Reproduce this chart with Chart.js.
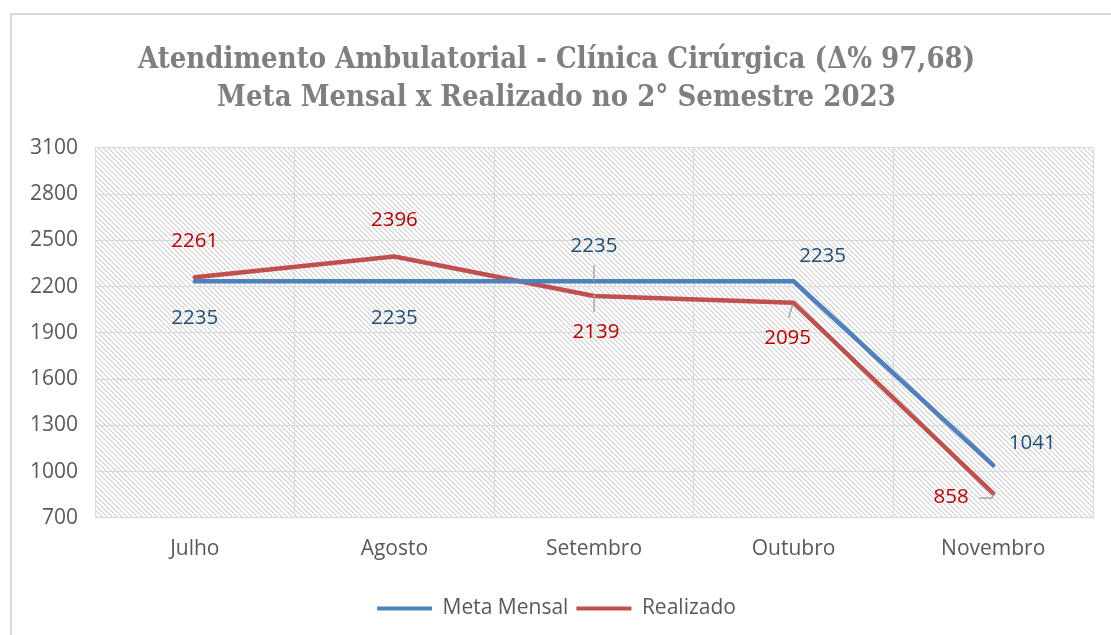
<!DOCTYPE html>
<html><head><meta charset="utf-8">
<script src="https://cdn.jsdelivr.net/npm/chart.js@4/dist/chart.umd.min.js"></script>
<style>html,body{margin:0;padding:0;background:#fff}#wrap{width:1111px;height:635px;position:relative}</style>
</head><body><div id="wrap"><canvas id="c"></canvas></div>
<script>
const titleLines = ['Atendimento Ambulatorial - Clínica Cirúrgica (Δ% 97,68)', 'Meta Mensal x Realizado no 2° Semestre 2023'];
const months = ['Julho', 'Agosto', 'Setembro', 'Outubro', 'Novembro'];
const metaMensal = [2235, 2235, 2235, 2235, 1041];
const realizado = [2261, 2396, 2139, 2095, 858];
const yMin = 700, yMax = 3100, yStep = 300;

// label placement (styling only)
const labelPlacement = [
  [{dx:0,dy:37},{dx:0,dy:37},{dx:0,dy:-35,leader:[[0,-16],[0,0]]},{dx:29,dy:-25},{dx:39,dy:-22}],
  [{dx:0,dy:-36},{dx:0,dy:-36},{dx:2,dy:36,leader:[[0,-1],[0,16]]},{dx:-6,dy:35,leader:[[-1,2],[-5,15]]},{dx:-42,dy:4,leader:[[-14,4.5],[-1,4.5],[0,1]]}]
];
const labelColors = ['#1F4E79', '#C00000'];
const FONT = "'Open Sans', sans-serif";

function makeHatch() {
  const c = document.createElement('canvas');
  c.width = 5; c.height = 5;
  const x = c.getContext('2d');
  x.fillStyle = '#fff'; x.fillRect(0,0,5,5);
  x.fillStyle = 'rgb(205,205,205)';
  for (let i = 0; i < 5; i++) x.fillRect(i, i, 1, 1);
  x.fillStyle = 'rgb(238,238,238)';
  for (let i = 0; i < 5; i++) x.fillRect((i+1)%5, i, 1, 1);
  return c;
}

const bgPlugin = {
  id: 'bg',
  beforeDraw(chart) {
    const ctx = chart.ctx, a = chart.chartArea;
    ctx.save();
    ctx.fillStyle = '#fff';
    ctx.fillRect(0, 0, chart.width, chart.height);
    ctx.fillStyle = '#d9d9d9';
    ctx.fillRect(10, 13, chart.width - 10, 2);
    ctx.fillRect(10, 13, 2, chart.height - 13);
    ctx.fillStyle = ctx.createPattern(makeHatch(), 'repeat');
    ctx.fillRect(a.left, a.top, a.right - a.left, a.bottom - a.top);
    ctx.restore();
  }
};

const labelPlugin = {
  id: 'vlabels',
  afterDatasetsDraw(chart) {
    const ctx = chart.ctx;
    ctx.save();
    chart.data.datasets.forEach((ds, di) => {
      const meta = chart.getDatasetMeta(di);
      meta.data.forEach((pt, i) => {
        const p = labelPlacement[di][i];
        if (p.leader) {
          ctx.strokeStyle = '#a6a6a6';
          ctx.lineWidth = 1.5;
          ctx.beginPath();
          p.leader.forEach((q, k) => {
            const X = pt.x + q[0], Y = pt.y + q[1];
            if (k === 0) ctx.moveTo(X, Y); else ctx.lineTo(X, Y);
          });
          ctx.stroke();
        }
        ctx.fillStyle = labelColors[di];
        ctx.font = "20.5px " + FONT;
        ctx.textAlign = 'center';
        ctx.textBaseline = 'middle';
        ctx.fillText(String(ds.data[i]), pt.x + p.dx, pt.y + p.dy);
      });
    });
    ctx.restore();
  }
};

new Chart(document.getElementById('c'), {
  type: 'line',
  data: {
    labels: months,
    datasets: [
      {label: 'Meta Mensal', data: metaMensal, borderColor: '#4F81BD', backgroundColor: '#4F81BD', borderWidth: 4.5, pointRadius: 0, tension: 0, borderCapStyle: 'round', borderJoinStyle: 'round'},
      {label: 'Realizado', data: realizado, borderColor: '#C0504D', backgroundColor: '#C0504D', borderWidth: 4.5, pointRadius: 0, tension: 0, borderCapStyle: 'round', borderJoinStyle: 'round'}
    ]
  },
  options: {
    responsive: true,
    maintainAspectRatio: false,
    animation: false,
    layout: {padding: {left: 20, right: 18, top: 41, bottom: 6}},
    plugins: {
      title: {
        display: true,
        text: titleLines,
        color: '#7F7F7F',
        font: {family: "'DejaVu Serif Condensed', 'DejaVu Serif', serif", size: 29, weight: 'bold', lineHeight: 1.31},
        padding: {top: 0, bottom: 31}
      },
      legend: {
        position: 'bottom',
        labels: {
          color: '#595959',
          font: {family: FONT, size: 21},
          boxWidth: 55,
          boxHeight: 4,
          padding: 8,
          generateLabels(chart) {
            return chart.data.datasets.map((d, i) => ({text: d.label, fillStyle: d.borderColor, strokeStyle: d.borderColor, lineWidth: 0, datasetIndex: i, fontColor: '#595959'}));
          }
        }
      },
      tooltip: {enabled: false}
    },
    scales: {
      x: {
        offset: true,
        grid: {offset: true, color: '#d9d9d9', lineWidth: 1, drawTicks: false},
        border: {color: '#d9d9d9'},
        ticks: {color: '#595959', font: {family: FONT, size: 21}, padding: 19},
        afterFit(scale) { scale.height += 9; }
      },
      y: {
        min: yMin, max: yMax,
        grid: {color: '#d9d9d9', lineWidth: 1, drawTicks: false},
        border: {color: '#d9d9d9'},
        ticks: {stepSize: yStep, color: '#595959', font: {family: FONT, size: 21}, padding: 17, callback: (v) => String(v)},
        afterFit(scale) { scale.width = 75; }
      }
    }
  },
  plugins: [bgPlugin, labelPlugin]
});
</script></body></html>
